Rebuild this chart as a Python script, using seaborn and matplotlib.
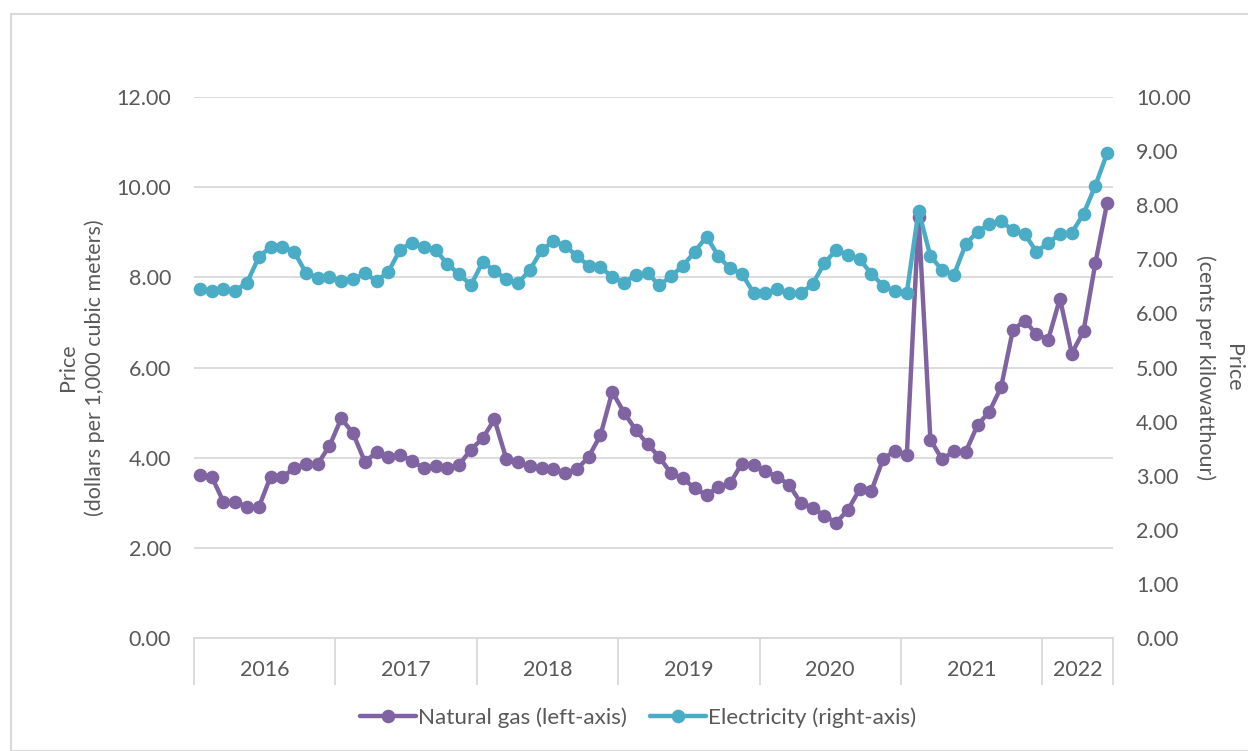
import numpy as np
import pandas as pd
import matplotlib
matplotlib.use('Agg')
import matplotlib.pyplot as plt
import seaborn as sns
from matplotlib.patches import Rectangle
from matplotlib.lines import Line2D

# monthly values, Jan 2016 - Jun 2022
years = ['2016', '2017', '2018', '2019', '2020', '2021', '2022']
months_per_year = [12, 12, 12, 12, 12, 12, 6]

gas = [3.61, 3.58, 3.02, 3.02, 2.91, 2.90, 3.58, 3.58, 3.76, 3.87, 3.86, 4.26,
       4.87, 4.54, 3.91, 4.12, 4.01, 4.06, 3.93, 3.76, 3.81, 3.76, 3.84, 4.18,
       4.43, 4.85, 3.98, 3.90, 3.81, 3.76, 3.74, 3.67, 3.74, 4.02, 4.50, 5.46,
       5.00, 4.61, 4.30, 4.01, 3.65, 3.54, 3.32, 3.17, 3.35, 3.43, 3.87, 3.84,
       3.70, 3.58, 3.40, 3.00, 2.89, 2.71, 2.56, 2.84, 3.30, 3.27, 3.98, 4.15,
       4.06, 9.34, 4.40, 3.96, 4.15, 4.13, 4.72, 5.02, 5.56, 6.83, 7.04, 6.74,
       6.62, 7.53, 6.31, 6.81, 8.31, 9.65]

elec = [6.45, 6.41, 6.46, 6.42, 6.57, 7.04, 7.23, 7.23, 7.14, 6.75, 6.66, 6.68,
        6.59, 6.63, 6.74, 6.60, 6.77, 7.18, 7.31, 7.22, 7.18, 6.91, 6.73, 6.52,
        6.95, 6.79, 6.63, 6.56, 6.80, 7.17, 7.33, 7.25, 7.06, 6.88, 6.86, 6.67,
        6.57, 6.71, 6.74, 6.52, 6.69, 6.88, 7.14, 7.42, 7.06, 6.83, 6.73, 6.38,
        6.37, 6.45, 6.37, 6.37, 6.54, 6.93, 7.17, 7.08, 7.00, 6.73, 6.51, 6.41,
        6.38, 7.90, 7.06, 6.80, 6.71, 7.28, 7.51, 7.65, 7.70, 7.54, 7.47, 7.14,
        7.30, 7.47, 7.49, 7.84, 8.36, 8.96]

gas_label = 'Natural gas (left-axis)'
elec_label = 'Electricity (right-axis)'
gas_color = '#8064A2'
elec_color = '#4BACC6'
text_color = '#595959'
grid_color = '#D9D9D9'
FS = 15.5


def main():
    sns.set_theme(style='white')
    plt.rcParams['font.family'] = ['Lato', 'DejaVu Sans']

    df = pd.DataFrame({'month': np.arange(len(gas)), 'gas': gas, 'elec': elec})

    fig = plt.figure(figsize=(12.48, 7.51), dpi=100)
    fig.patches.append(Rectangle((11 / 1248, 0), 1.2, 1 - 14 / 751, transform=fig.transFigure,
                                 fill=False, edgecolor=grid_color, linewidth=1.5, zorder=0))
    ax = fig.add_axes([194 / 1248, 1 - 638 / 751, (1113 - 194) / 1248, (638 - 97) / 751])
    ax2 = ax.twinx()

    line_kw = dict(marker='o', markersize=9.8, linewidth=3.2, markeredgewidth=0, clip_on=False)
    sns.lineplot(data=df, x='month', y='gas', ax=ax, color=gas_color, legend=False, **line_kw)
    sns.lineplot(data=df, x='month', y='elec', ax=ax2, color=elec_color, legend=False, **line_kw)

    n = len(gas)
    ax.set_xlim(-0.5, n - 0.5)
    ax.set_ylim(0, 12)
    ax2.set_ylim(0, 10)

    # category axis with year groups
    bounds = np.concatenate([[0], np.cumsum(months_per_year)]) - 0.5
    centers = (bounds[:-1] + bounds[1:]) / 2
    ax.set_xticks(bounds)
    ax.set_xticklabels([])
    ax.set_xticks(centers, minor=True)
    ax.set_xticklabels(years, minor=True)
    ax.tick_params(axis='x', which='major', bottom=True, length=34, width=1.3,
                   color=grid_color, direction='out')
    ax.tick_params(axis='x', which='minor', bottom=True, length=0, pad=15.5,
                   labelsize=FS, labelcolor=text_color)

    ax.set_yticks(np.arange(0, 13, 2))
    ax.set_yticklabels([f'{v:.2f}' for v in np.arange(0, 13, 2)])
    ax.tick_params(axis='y', length=0, pad=16.5, labelsize=FS, labelcolor=text_color)
    ax2.set_yticks(np.arange(0, 11, 1))
    ax2.set_yticklabels([f'{v:.2f}' for v in np.arange(0, 11, 1)])
    ax2.tick_params(axis='y', length=0, pad=16.5, labelsize=FS, labelcolor=text_color)

    ax.yaxis.grid(True, color=grid_color, linewidth=1.3)
    ax.set_axisbelow(True)
    for a in (ax, ax2):
        for s in ('top', 'right', 'left', 'bottom'):
            a.spines[s].set_visible(False)
    ax.spines['bottom'].set_visible(True)
    ax.spines['bottom'].set_color(grid_color)
    ax.spines['bottom'].set_linewidth(1.3)
    ax.set_xlabel('')

    ax.set_ylabel('Price\n(dollars per 1,000 cubic meters)', fontsize=FS, color=text_color,
                  labelpad=8, linespacing=1.4)
    ax2.set_ylabel('Price\n(cents per kilowatthour)', fontsize=FS, color=text_color,
                   rotation=270, labelpad=38, linespacing=1.45)

    handles = [Line2D([], [], color=gas_color, marker='o', markersize=9.8, linewidth=3.2, markeredgewidth=0),
               Line2D([], [], color=elec_color, marker='o', markersize=9.8, linewidth=3.2, markeredgewidth=0)]
    fig.legend(handles, [gas_label, elec_label], loc='center', bbox_to_anchor=(638 / 1248, 1 - 718 / 751),
               ncol=2, frameon=False, fontsize=16.2, labelcolor=text_color, handlelength=2.5,
               handletextpad=0.1, columnspacing=1.0)

    fig.savefig('out.png', dpi=100)


if __name__ == '__main__':
    main()
